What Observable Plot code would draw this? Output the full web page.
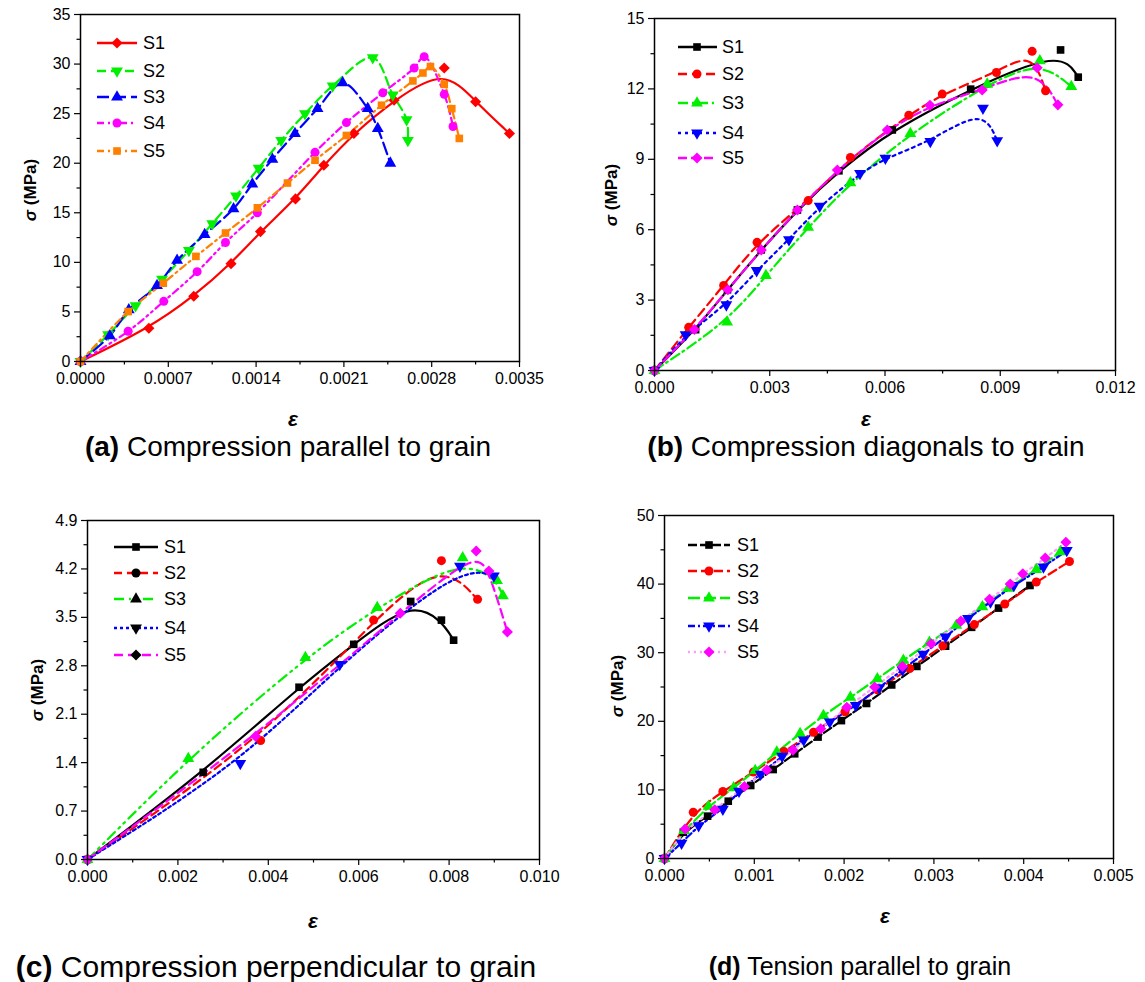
<!DOCTYPE html>
<html><head><meta charset="utf-8">
<script src="https://cdn.jsdelivr.net/npm/d3@7"></script>
<script src="https://cdn.jsdelivr.net/npm/@observablehq/plot@0.6"></script>
<style>
body{margin:0;background:#fff;}
#wrap{position:relative;width:1145px;height:982px;background:#fff;font-family:"Liberation Sans",Arial,sans-serif;}
#wrap > svg.plot{position:absolute;}
#overlay{position:absolute;left:0;top:0;pointer-events:none;}
</style></head>
<body><div id="wrap"></div>
<script>
// ---------- DATA (strain ε, stress σ in MPa) ----------
const series = ["S1","S2","S3","S4","S5"];
// (a) Compression parallel to grain
const aS1 = [[0,0],[0.000545,3.35],[0.000903,6.58],[0.0012,9.87],[0.001435,13.1],[0.001714,16.4],[0.00194,19.8],[0.00218,23.0],[0.0025,26.35],[0.0029,29.6],[0.00315,26.2],[0.00342,23.0]];
const aS2 = [[0,0],[0.00022,2.7],[0.000439,5.64],[0.00065,8.3],[0.000864,11.2],[0.00105,13.9],[0.00124,16.7],[0.00142,19.5],[0.0016,22.3],[0.00179,25.0],[0.00201,27.8],[0.00233,30.65],[0.00249,26.9],[0.0026,24.4],[0.00261,22.3]];
const aS3 = [[0,0],[0.000234,2.6],[0.000385,5.2],[0.00061,7.65],[0.00077,10.2],[0.00099,12.8],[0.00122,15.4],[0.00137,17.9],[0.00153,20.4],[0.00171,23.0],[0.00189,25.5],[0.00209,28.1],[0.00229,25.5],[0.00237,23.5],[0.00247,20.0]];
const aS4 = [[0,0],[0.00038,3.05],[0.000664,6.07],[0.00093,9.06],[0.001156,12.0],[0.00141,15.0],[0.00187,21.1],[0.00212,24.1],[0.00241,27.1],[0.00266,29.6],[0.00274,30.75],[0.0029,26.95],[0.00297,23.7]];
const aS5 = [[0,0],[0.00038,5.04],[0.00066,7.9],[0.00092,10.6],[0.001156,12.96],[0.00141,15.5],[0.00165,18.0],[0.00187,20.3],[0.00212,22.8],[0.0024,25.85],[0.00265,28.3],[0.00273,29.1],[0.00279,29.75],[0.0029,27.95],[0.00296,25.5],[0.00302,22.5]];
const aXTicks = [0,0.0007,0.0014,0.0021,0.0028,0.0035];
const aYTicks = [0,5,10,15,20,25,30,35];
// (b) Compression diagonals to grain
const bS1 = [[0,0],[0.00107,1.74],[0.0019,3.44],[0.00278,5.14],[0.00372,6.84],[0.0048,8.51],[0.00619,10.25],[0.00823,11.99],[0.01057,13.66],[0.01103,12.5]];
const bS2 = [[0,0],[0.00089,1.84],[0.0018,3.62],[0.00267,5.46],[0.004,7.24],[0.0051,9.08],[0.00662,10.88],[0.00749,11.78],[0.0089,12.7],[0.00983,13.6],[0.01018,11.92]];
const bS3 = [[0,0],[0.00189,2.06],[0.0029,4.04],[0.004,6.1],[0.0051,8.0],[0.00666,10.1],[0.00866,12.2],[0.01003,13.2],[0.01085,12.1]];
const bS4 = [[0,0],[0.00081,1.53],[0.00187,2.8],[0.00266,4.26],[0.0035,5.58],[0.0043,7.0],[0.00535,8.4],[0.00601,9.05],[0.00718,9.76],[0.00855,11.18],[0.00892,9.79]];
const bS5 = [[0,0],[0.00104,1.745],[0.00191,3.44],[0.00278,5.14],[0.00372,6.84],[0.00476,8.54],[0.00606,10.25],[0.00717,11.3],[0.00853,11.95],[0.00996,12.9],[0.0105,11.32]];
const bXTicks = [0,0.003,0.006,0.009,0.012];
const bYTicks = [0,3,6,9,12,15];
// (c) Compression perpendicular to grain
const cS1 = [[0,0],[0.00256,1.26],[0.00468,2.49],[0.00589,3.11],[0.00715,3.73],[0.00783,3.46],[0.0081,3.17]];
const cS2 = [[0,0],[0.00383,1.72],[0.00633,3.46],[0.00783,4.32],[0.00863,3.76]];
const cS3 = [[0,0],[0.00223,1.46],[0.00482,2.92],[0.00641,3.64],[0.0083,4.36],[0.00906,4.03],[0.00919,3.81]];
const cS4 = [[0,0],[0.00338,1.39],[0.00558,2.82],[0.00824,4.24],[0.00899,4.1]];
const cS5 = [[0,0],[0.00372,1.78],[0.00692,3.56],[0.0086,4.46],[0.00888,4.17],[0.00929,3.29]];
const cXTicks = [0,0.002,0.004,0.006,0.008,0.010];
const cYTicks = [0,0.7,1.4,2.1,2.8,3.5,4.2,4.9];
// (d) Tension parallel to grain
const dS1 = [[0,0],[0.00021,3.83],[0.00048,6.17],[0.00071,8.35],[0.00096,10.64],[0.00121,12.97],[0.00145,15.26],[0.00171,17.7],[0.00197,20.1],[0.00225,22.6],[0.00253,25.3],[0.00281,28.0],[0.00313,30.95],[0.00342,33.7],[0.00372,36.5],[0.00407,39.8]];
const dS2 = [[0,0],[0.00032,6.75],[0.00065,9.77],[0.00099,12.6],[0.00133,15.6],[0.00166,18.4],[0.00201,21.4],[0.00237,24.6],[0.00273,27.7],[0.0031,31.0],[0.00345,34.1],[0.00379,37.1],[0.00414,40.3],[0.00451,43.3]];
const dS3 = [[0,0],[0.00022,4.08],[0.00049,7.6],[0.00077,10.3],[0.00101,12.8],[0.00125,15.5],[0.00151,18.2],[0.00177,20.85],[0.00207,23.5],[0.00237,26.2],[0.00266,28.9],[0.00295,31.5],[0.00325,34.0],[0.00354,36.7],[0.00383,39.4],[0.00414,42.1],[0.00441,44.7]];
const dS4 = [[0,0],[0.00019,2.25],[0.00038,4.8],[0.00065,7.2],[0.00083,9.8],[0.00107,12.3],[0.00131,14.9],[0.00155,17.3],[0.00184,19.9],[0.00213,22.3],[0.00239,24.9],[0.00265,27.5],[0.00288,29.8],[0.00313,32.3],[0.00338,35.0],[0.00363,37.4],[0.00389,39.8],[0.00422,42.5],[0.00448,44.9]];
const dS5 = [[0,0],[0.00023,4.3],[0.00056,7.1],[0.00089,10.5],[0.00114,12.9],[0.00143,15.8],[0.00174,18.9],[0.00203,22.05],[0.00234,25.0],[0.00265,28.0],[0.00297,31.3],[0.0033,34.6],[0.00362,37.8],[0.00385,40.0],[0.00399,41.5],[0.00424,43.8],[0.00447,46.1]];
const dXTicks = [0,0.001,0.002,0.003,0.004,0.005];
const dYTicks = [0,10,20,30,40,50];
const captions = [
  ["(a)"," Compression parallel to grain"],
  ["(b)"," Compression diagonals to grain"],
  ["(c)"," Compression perpendicular to grain"],
  ["(d)"," Tension parallel to grain"]
];

// ---------- STYLES ----------
const downTri = {draw(ctx, size){const y=-Math.sqrt(size/(Math.sqrt(3)*3));ctx.moveTo(0,-2*y);ctx.lineTo(-Math.sqrt(3)*y,y);ctx.lineTo(Math.sqrt(3)*y,y);ctx.closePath();}};
const SYM = {diamond:{plot:"diamond2",d3:d3.symbolDiamond2,r:5}, down:{plot:downTri,d3:downTri,r:4.4}, up:{plot:"triangle",d3:d3.symbolTriangle,r:4.4}, circle:{plot:"circle",d3:d3.symbolCircle,r:4.5}, square:{plot:"square",d3:d3.symbolSquare,r:4.3}};
const RED="#ff0000",GRN="#00f000",BLU="#0000ff",MAG="#ff00ff",ORG="#ff8000",BLK="#000000";

const panels = [
  {data:[aS1,aS2,aS3,aS4,aS5], xt:aXTicks, yt:aYTicks, xf:d=>d.toFixed(4), yf:d=>d.toFixed(0),
   pos:{left:0,top:0,width:560,height:410,ml:80,mr:41,mt:14,mb:49},
   st:[{c:RED,sym:"diamond",dash:null,cv:"basis"},{c:GRN,sym:"down",dash:"9,5",cv:"catmull-rom"},{c:BLU,sym:"up",dash:"12,5",cv:"catmull-rom"},{c:MAG,sym:"circle",dash:"7,4,2,4,2,4",cv:"catmull-rom"},{c:ORG,sym:"square",dash:"7,4,2,4",cv:"catmull-rom"}],
   leg:{x1:97,x2:137,mx:117,tx:143,ys:[43,71,97,123,151]}, legBlack:false},
  {data:[bS1,bS2,bS3,bS4,bS5], xt:bXTicks, yt:bYTicks, xf:d=>d.toFixed(3), yf:d=>d.toFixed(0),
   pos:{left:580,top:0,width:560,height:410,ml:74,mr:25,mt:18,mb:40},
   st:[{c:BLK,sym:"square",dash:null},{c:RED,sym:"circle",dash:"9,5"},{c:GRN,sym:"up",dash:"10,4,2,4"},{c:BLU,sym:"down",dash:"3,4"},{c:MAG,sym:"diamond",dash:"9,4"}],
   leg:{x1:678,x2:717,mx:697,tx:722,ys:[47,74,103,133,158]}, legBlack:false},
  {data:[cS1,cS2,cS3,cS4,cS5], xt:cXTicks, yt:cYTicks, xf:d=>d.toFixed(3), yf:d=>d.toFixed(1),
   pos:{left:0,top:490,width:560,height:410,ml:87,mr:21,mt:30,mb:41},
   st:[{c:BLK,sym:"square",dash:null},{c:RED,sym:"circle",dash:"8,5"},{c:GRN,sym:"up",dash:"10,5,2,5,2,5"},{c:BLU,sym:"down",dash:"3,3"},{c:MAG,sym:"diamond",dash:"9,5"}],
   leg:{x1:114,x2:158,mx:136,tx:164,ys:[547,573,599,628,655]}, legBlack:true},
  {data:[dS1,dS2,dS3,dS4,dS5], xt:dXTicks, yt:dYTicks, xf:d=>d.toFixed(3), yf:d=>d.toFixed(0),
   pos:{left:580,top:490,width:560,height:410,ml:84,mr:27,mt:25,mb:42},
   st:[{c:BLK,sym:"square",dash:"9,3"},{c:RED,sym:"circle",dash:"9,4"},{c:GRN,sym:"up",dash:"12,4"},{c:BLU,sym:"down",dash:"7,3,2,3"},{c:MAG,sym:"diamond",dash:"2,4",lc:"#ff9cff"}],
   leg:{x1:688,x2:730,mx:709,tx:737,ys:[545,571,598,626,652]}, legBlack:false}
];

const wrap = document.getElementById("wrap");
function minorOf(t){const m=[];for(let i=0;i<t.length-1;i++)m.push((t[i]+t[i+1])/2);return m;}

panels.forEach(p=>{
  const P=p.pos;
  const marks=[];
  p.data.forEach((ser,i)=>{
    const s=p.st[i];
    marks.push(Plot.line(ser,{x:d=>d[0],y:d=>d[1],curve:s.cv||"basis",stroke:s.lc||s.c,strokeWidth:2.2,strokeDasharray:s.dash||undefined}));
  });
  p.data.forEach((ser,i)=>{
    const s=p.st[i];
    marks.push(Plot.dot(ser,{x:d=>d[0],y:d=>d[1],symbol:SYM[s.sym].plot,r:SYM[s.sym].r,fill:s.c,stroke:"none"}));
  });
  marks.push(Plot.axisX({ticks:p.xt,tickFormat:p.xf,tickSize:6,tickPadding:5,fontSize:16,label:null,strokeWidth:1.2}));
  marks.push(Plot.axisX({ticks:minorOf(p.xt),tickSize:3.5,text:null,label:null,strokeWidth:1.2}));
  marks.push(Plot.axisY({ticks:p.yt,tickFormat:p.yf,tickSize:6,tickPadding:4,fontSize:16,label:null,strokeWidth:1.2}));
  marks.push(Plot.axisY({ticks:minorOf(p.yt),tickSize:3.5,text:null,label:null,strokeWidth:1.2}));
  marks.push(Plot.frame({stroke:"#000",strokeWidth:1.5}));
  const svg=Plot.plot({
    width:P.width,height:P.height,marginLeft:P.ml,marginRight:P.mr,marginTop:P.mt,marginBottom:P.mb,
    x:{domain:[p.xt[0],p.xt[p.xt.length-1]]},
    y:{domain:[p.yt[0],p.yt[p.yt.length-1]]},
    style:{fontFamily:'"Liberation Sans",Arial,sans-serif',color:"#000",background:"transparent",overflow:"visible"},
    marks
  });
  svg.classList.add("plot");
  svg.style.left=P.left+"px";svg.style.top=P.top+"px";
  wrap.appendChild(svg);
});

// ---------- overlay: legends, axis titles, captions ----------
const ov=d3.select(wrap).append("svg").attr("id","overlay").attr("width",1145).attr("height",982)
  .style("font-family",'"Liberation Sans",Arial,sans-serif');
panels.forEach(p=>{
  const L=p.leg;
  series.forEach((name,i)=>{
    const s=p.st[i], y=L.ys[i];
    ov.append("line").attr("x1",L.x1).attr("x2",L.x2).attr("y1",y).attr("y2",y)
      .attr("stroke",s.lc||s.c).attr("stroke-width",2.4).attr("stroke-dasharray",s.dash||null);
    ov.append("path").attr("transform",`translate(${L.mx},${y})`)
      .attr("d",d3.symbol().type(SYM[s.sym].d3).size(Math.PI*SYM[s.sym].r*SYM[s.sym].r)())
      .attr("fill",p.legBlack?"#000":s.c);
    ov.append("text").attr("x",L.tx).attr("y",y).attr("dy","0.36em").attr("font-size",18).text(name);
  });
});
const ylab=[[30,190],[611,195],[37,690],[617,686]];
const xlab=[[293,418],[866,418],[313,920],[885,915]];
ylab.forEach(([x,y])=>{
  const t=ov.append("text").attr("transform",`translate(${x},${y}) rotate(-90)`).attr("text-anchor","middle")
    .attr("dy","0.36em").attr("font-size",17).attr("font-weight","bold");
  t.append("tspan").attr("font-style","italic").text("σ");
  t.append("tspan").text(" (MPa)");
});
xlab.forEach(([x,y])=>{
  ov.append("text").attr("x",x).attr("y",y).attr("text-anchor","middle").attr("dy","0.36em")
    .attr("font-size",21).attr("font-weight","bold").attr("font-style","italic").text("ε");
});
const capPos=[[288,446,28],[866,446,28],[276,966,30],[860,966,25]];
capPos.forEach(([x,y,fs],i)=>{
  const t=ov.append("text").attr("x",x).attr("y",y).attr("text-anchor","middle").attr("dy","0.36em").attr("font-size",fs);
  t.append("tspan").attr("font-weight","bold").text(captions[i][0]);
  t.append("tspan").text(captions[i][1]);
});
</script>
</body></html>
